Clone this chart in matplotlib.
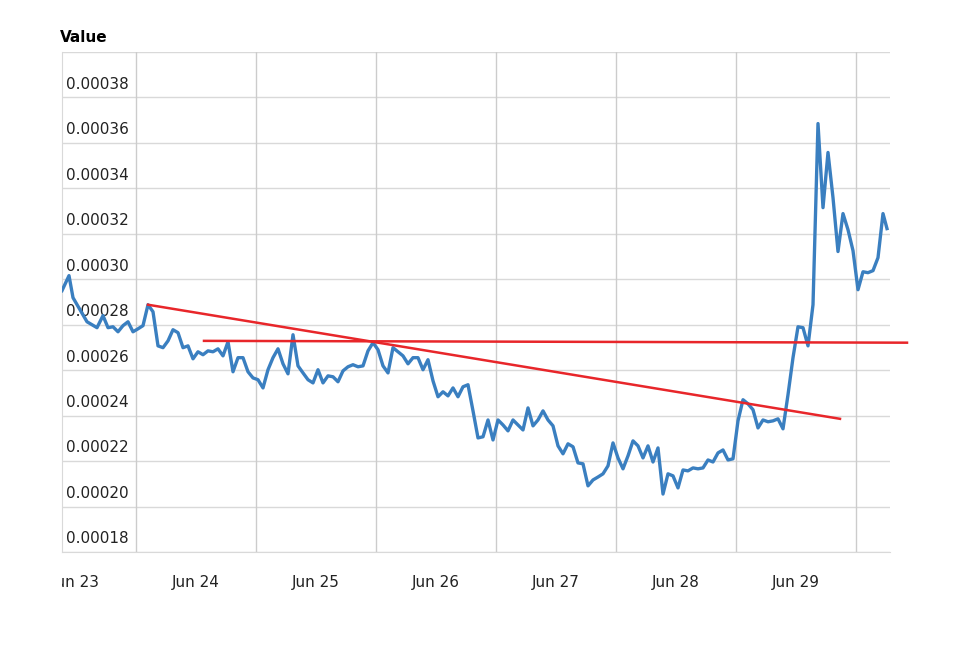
import matplotlib
matplotlib.use("Agg")
import matplotlib.pyplot as plt
import matplotlib.transforms as mtransforms
import numpy as np

# hours since Jun 23 00:00 for the first irregular samples, then hourly
first_hours = [-2.8, -1.4, -0.6, 0.8, 2.2, 4.2, 5.4, 6.4]
# values in units of 1e-5
values = [
    29.50, 30.16, 29.19, 28.66, 28.13, 27.87, 28.40, 27.87,
    27.91, 27.69, 27.96, 28.13, 27.69, 27.82, 27.96, 28.88, 28.57, 27.07,
    26.99, 27.29, 27.78, 27.65, 26.99, 27.07, 26.50, 26.81, 26.68, 26.85,
    26.81, 26.94, 26.63, 27.25, 25.93, 26.55, 26.55, 25.93, 25.66, 25.58,
    25.22, 26.02, 26.55, 26.94, 26.28, 25.84, 27.56, 26.19, 25.88, 25.58,
    25.44, 26.02, 25.44, 25.75, 25.71, 25.49, 25.97, 26.15, 26.24, 26.15,
    26.19, 26.85, 27.21, 26.90, 26.19, 25.88, 26.99, 26.81, 26.63, 26.28,
    26.55, 26.55, 26.02, 26.46, 25.53, 24.83, 25.05, 24.87, 25.22, 24.83,
    25.27, 25.36, 24.21, 23.02, 23.07, 23.81, 22.93, 23.81, 23.59, 23.33,
    23.81, 23.59, 23.37, 24.34, 23.55, 23.81, 24.21, 23.81, 23.55, 22.67,
    22.32, 22.76, 22.63, 21.92, 21.88, 20.91, 21.17, 21.30, 21.44, 21.79,
    22.80, 22.14, 21.66, 22.23, 22.89, 22.67, 22.14, 22.67, 21.96, 22.58,
    20.55, 21.44, 21.35, 20.82, 21.61, 21.57, 21.70, 21.66, 21.70, 22.05,
    21.96, 22.36, 22.49, 22.05, 22.10, 23.77, 24.70, 24.52, 24.26, 23.46,
    23.81, 23.73, 23.77, 23.86, 23.42, 24.92, 26.55, 27.91, 27.87, 27.07,
    28.88, 36.85, 33.15, 35.58, 33.59, 31.22, 32.89, 32.18, 31.26, 29.54,
    30.33, 30.29, 30.38, 30.95, 32.89, 32.23,
]
n_rest = len(values) - len(first_hours) - 1
hours = first_hours + [7.4 + i for i in range(n_rest)] + [162.2]

trend_hours = [14.4, 152.8]
trend_values = [28.88, 23.86]
flat_hours = [25.6, 166.2]
flat_values = [27.29, 27.21]

day_labels = ["Jun 23", "Jun 24", "Jun 25", "Jun 26", "Jun 27", "Jun 28", "Jun 29"]
y_ticks = [18, 20, 22, 24, 26, 28, 30, 32, 34, 36, 38]

fig = plt.figure(figsize=(9.76, 6.56), dpi=100)
ax = fig.add_axes([62 / 976, 104 / 656, 828 / 976, 500 / 656])
ax.set_xlim(-2.8, 162.8)
ax.set_ylim(18, 40)

y = np.array(values)
ax.plot(hours, y, color="#3a7fc0", lw=2.4, zorder=3)
ax.plot(trend_hours, trend_values, color="#e8262a", lw=1.8, zorder=4)
ax.plot(flat_hours, flat_values, color="#e8262a", lw=1.8, zorder=4, clip_on=False)

# grid
for v in y_ticks + [40]:
    ax.axhline(v, color="#d9d9d9", lw=1, zorder=1)
for h in range(12, 160, 24):
    ax.axvline(h, color="#cccccc", lw=1, zorder=1)

for s in ax.spines.values():
    s.set_visible(False)
ax.spines["left"].set_visible(True)
ax.spines["left"].set_color("#d9d9d9")
ax.spines["bottom"].set_visible(True)
ax.spines["bottom"].set_color("#d9d9d9")
ax.set_xticks([])
ax.set_yticks([])

trans = mtransforms.blended_transform_factory(ax.transAxes, ax.transData)
for v in y_ticks:
    ax.text(0.005, v + 0.25, f"{v * 1e-5:.5f}", transform=trans, fontsize=11,
            color="#222222", va="bottom", ha="left", zorder=2)

for i, lab in enumerate(day_labels):
    t = ax.text(i * 24, 17.0, lab, fontsize=11, color="#222222", ha="center",
                va="top", clip_on=False)
    if i == 0:
        t.set_clip_path(None)
        t.set_clip_box(mtransforms.Bbox.from_extents(62, 0, 976, 656))
        t.set_clip_on(True)

fig.text(60 / 976, 1 - 37 / 656, "Value", fontsize=11, fontweight="bold",
         va="center", ha="left")

fig.savefig("out.png", dpi=100)
